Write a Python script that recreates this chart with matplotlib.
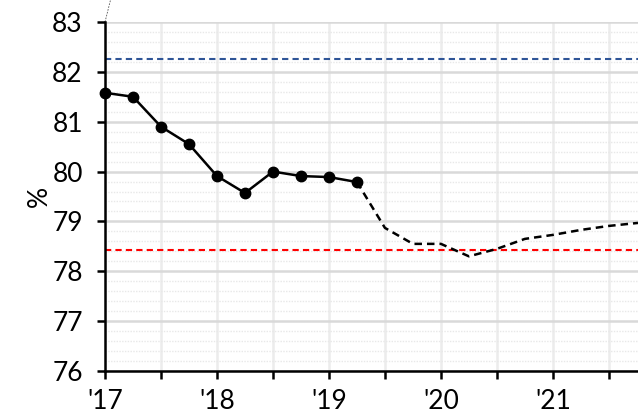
import numpy as np
import matplotlib
matplotlib.use('Agg')
import matplotlib.pyplot as plt
from matplotlib.ticker import MultipleLocator, FixedLocator

# ── data (quarterly) ──
hist_t = [2017.0, 2017.25, 2017.5, 2017.75, 2018.0, 2018.25, 2018.5, 2018.75, 2019.0, 2019.25]
hist_v = [81.58, 81.50, 80.90, 80.55, 79.91, 79.57, 80.00, 79.91, 79.89, 79.79]

fc_t = [2019.25, 2019.5, 2019.75, 2020.0, 2020.25, 2020.5, 2020.75, 2021.0, 2021.25, 2021.5, 2021.76]
fc_v = [79.79, 78.87, 78.55, 78.55, 78.30, 78.45, 78.65, 78.73, 78.83, 78.91, 78.97]

blue_level = 82.26
red_level = 78.42

year_ticks = [2017, 2018, 2019, 2020, 2021]
year_labels = ["'17", "'18", "'19", "'20", "'21"]

plt.rcParams['font.family'] = ['Lato', 'DejaVu Sans']

fig = plt.figure(figsize=(6.38, 4.18), dpi=100)
ax = fig.add_axes([0.1646, 0.1124, 0.8354, 0.835])

ax.set_xlim(2017, 2021.76)
ax.set_ylim(76, 83)

# grid
ax.yaxis.set_major_locator(MultipleLocator(1))
ax.yaxis.set_minor_locator(MultipleLocator(0.2))
ax.xaxis.set_major_locator(FixedLocator(year_ticks))
ax.xaxis.set_minor_locator(FixedLocator([y + 0.5 for y in year_ticks]))
ax.grid(True, axis='y', which='major', color='#d9d9d9', lw=1.8, zorder=0)
ax.grid(True, axis='y', which='minor', color='#e8e8e8', lw=1.0, ls=(0, (1, 1)), zorder=0)
ax.grid(True, axis='x', which='both', color='#ececec', lw=1.8, zorder=0)

# reference lines
ax.axhline(blue_level, color='#2f5597', ls=(0, (3, 2)), lw=1.5, zorder=2)
ax.axhline(red_level, color='#ff0000', ls=(0, (3, 2)), lw=1.5, zorder=2)

# series
ax.plot(fc_t, fc_v, color='black', ls=(0, (3, 2)), lw=1.8, zorder=3)
ax.plot(hist_t, hist_v, color='black', lw=1.8, marker='o', ms=7.5, zorder=4, clip_on=False)

ax.set_xticklabels(year_labels)
ax.tick_params(axis='both', which='major', labelsize=19, direction='out', length=6, width=1.8, color='black')
ax.tick_params(axis='x', which='minor', direction='out', length=6, width=1.8, color='black')
ax.tick_params(axis='y', which='minor', length=0)
ax.tick_params(axis='x', pad=7)
ax.tick_params(axis='y', pad=10)

for s in ['top', 'right']:
    ax.spines[s].set_visible(False)
for s in ['left', 'bottom']:
    ax.spines[s].set_linewidth(1.8)

ax.set_ylabel('%', fontsize=19, labelpad=0)

# thin leader line at top-left
ax.plot([2017.0, 2017.05], [83.0, 83.45], color='#555555', lw=0.6, ls=(0, (2, 1.5)), clip_on=False)

fig.savefig('out.png', dpi=100)
